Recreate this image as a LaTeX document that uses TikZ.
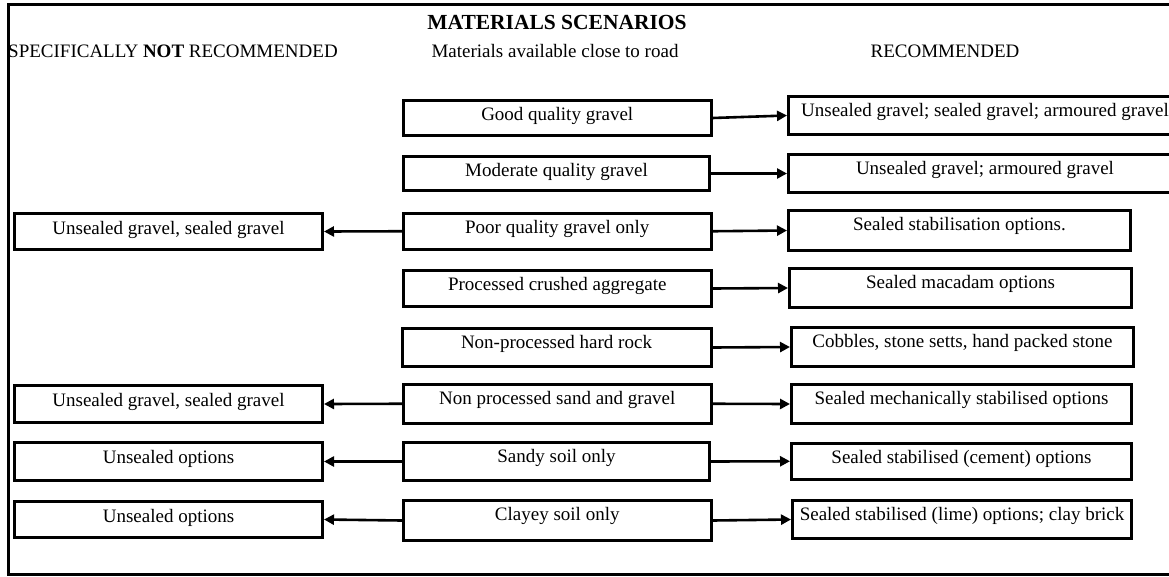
\documentclass[tikz,border=0pt]{standalone}
\usepackage{fontspec}
\setmainfont{Liberation Serif}
\usetikzlibrary{arrows.meta}
\begin{document}
\begin{tikzpicture}[x=1pt,y=-1pt,
  box/.style={draw, line width=3pt, inner sep=0pt, anchor=north west,
    font=\fontsize{19}{21}\selectfont, text height=20pt},
  hdr/.style={font=\fontsize{19}{21}\selectfont, inner sep=0pt, anchor=base},
  arr/.style={line width=2.6pt, -{Triangle[length=10pt,width=10pt]}},
  frame/.style={line width=3pt}
]
\useasboundingbox (0,0) rectangle (1169,576);
\draw[frame] (1185,4) -- (8.5,4) -- (8.5,574.5) -- (1185,574.5);

\node[font=\bfseries\fontsize{21.5}{24}\selectfont, inner sep=0pt, anchor=base] (title) at (557,29.5) {MATERIALS SCENARIOS};
\node[hdr, anchor=base west] (hnot) at (8,57) {SPECIFICALLY \textbf{NOT} RECOMMENDED};
\node[hdr] (hmat) at (555,57) {Materials available close to road};
\node[hdr] (hrec) at (945,57) {RECOMMENDED};

% middle column
\node[box, minimum width=307.5pt, text depth=15pt] (m1) at (402,99) {Good quality gravel};
\node[box, minimum width=306pt, text depth=14pt] (m2) at (402,155) {Moderate quality gravel};
\node[box, minimum width=307.5pt, text depth=15.5pt] (m3) at (402,212) {Poor quality gravel only};
\node[box, minimum width=307.5pt, text depth=16pt] (m4) at (402,269) {Processed crushed aggregate};
\node[box, minimum width=309pt, text depth=18pt] (m5) at (400.5,327) {Non-processed hard rock};
\node[box, minimum width=307.5pt, text depth=18.5pt] (m6) at (402,383) {Non processed sand and gravel};
\node[box, minimum width=306pt, text depth=18pt] (m7) at (402,441) {Sandy soil only};
\node[box, minimum width=307.5pt, text depth=20pt] (m8) at (402,499) {Clayey soil only};

% right column
\node[box, minimum width=393pt, text depth=18pt] (r1) at (787,95) {Unsealed gravel; sealed gravel; armoured gravel};
\node[box, minimum width=393pt, text depth=18pt] (r2) at (787,153) {Unsealed gravel; armoured gravel};
\node[box, minimum width=342pt, text depth=20pt] (r3) at (787,209) {Sealed stabilisation options.};
\node[box, minimum width=342pt, text depth=19pt] (r4) at (788,267) {Sealed macadam options};
\node[box, minimum width=342pt, text depth=19pt] (r5) at (790,326) {Cobbles, stone setts, hand packed stone};
\node[box, minimum width=340pt, text depth=19pt] (r6) at (790,383) {Sealed mechanically stabilised options};
\node[box, minimum width=340pt, text depth=15.5pt] (r7) at (790,442) {Sealed stabilised (cement) options};
\node[box, minimum width=339pt, text depth=18pt] (r8) at (791,499) {Sealed stabilised (lime) options; clay brick};

% left column
\node[box, minimum width=308pt, text height=21pt, text depth=15pt] (l3) at (13,212) {Unsealed gravel, sealed gravel};
\node[box, minimum width=308pt, text height=21pt, text depth=16pt] (l6) at (13,384) {Unsealed gravel, sealed gravel};
\node[box, minimum width=308pt, text height=21pt, text depth=17pt] (l7) at (13,441) {Unsealed options};
\node[box, minimum width=308pt, text height=21pt, text depth=15pt] (l8) at (13,500) {Unsealed options};

% arrows
\foreach \i in {1,...,8} \draw[arr] (m\i.east) -- (r\i.west);
\foreach \i in {3,6,7,8} \draw[arr] (m\i.west) -- (l\i.east);
\end{tikzpicture}
\end{document}
